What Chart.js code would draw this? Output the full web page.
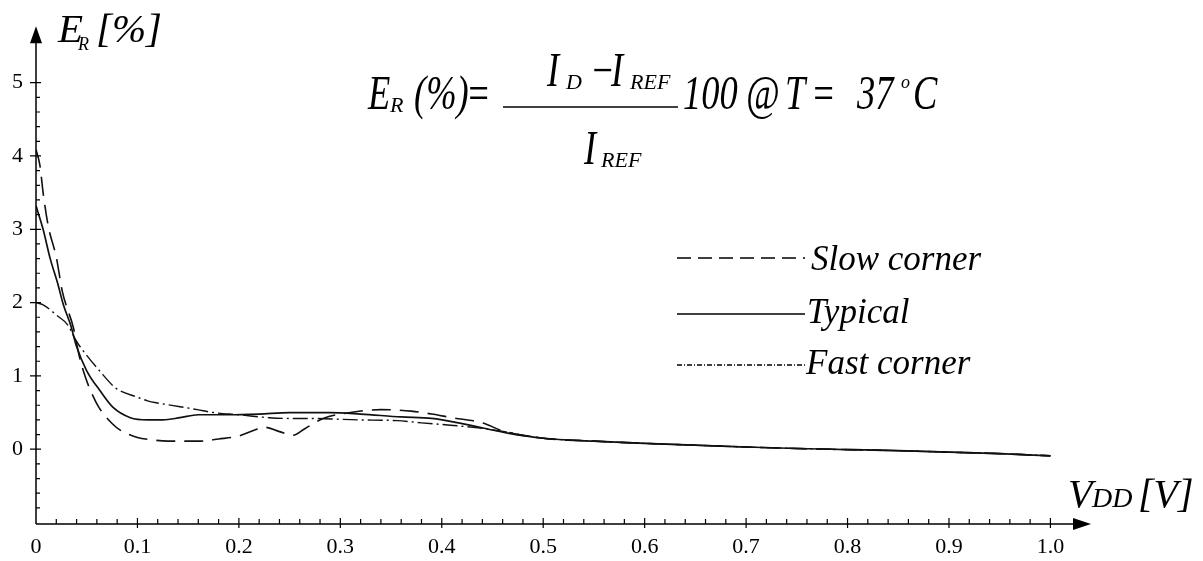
<!DOCTYPE html>
<html>
<head>
<meta charset="utf-8">
<script src="https://cdn.jsdelivr.net/npm/chart.js@4.4.0/dist/chart.umd.min.js"></script>
<style>
html, body { margin: 0; padding: 0; background: #fff; }
#wrap { width: 1203px; height: 561px; position: relative; }
</style>
</head>
<body>
<div id="wrap"><canvas id="graph"></canvas></div>
<script>
// E_R [%] versus V_DD [V]
var slowX = [0, 0.004, 0.007, 0.012, 0.02, 0.026, 0.037, 0.043, 0.049, 0.056, 0.062, 0.075, 0.083, 0.1, 0.113, 0.13, 0.16, 0.18, 0.2, 0.215, 0.225, 0.24, 0.253, 0.265, 0.283, 0.31, 0.34, 0.37, 0.39, 0.41, 0.44, 0.46, 0.5];
var slowY = [4.09, 3.86, 3.5, 3.05, 2.62, 2.15, 1.65, 1.25, 0.97, 0.73, 0.57, 0.35, 0.26, 0.16, 0.13, 0.11, 0.11, 0.14, 0.18, 0.26, 0.30, 0.24, 0.19, 0.28, 0.42, 0.50, 0.54, 0.52, 0.48, 0.43, 0.36, 0.25, 0.15];

var typicalX = [0, 0.007, 0.014, 0.021, 0.027, 0.034, 0.04, 0.05, 0.063, 0.076, 0.093, 0.11, 0.125, 0.142, 0.16, 0.19, 0.22, 0.25, 0.29, 0.32, 0.36, 0.39, 0.42, 0.465, 0.5];
var typicalY = [3.32, 3.0, 2.6, 2.28, 1.97, 1.70, 1.40, 1.07, 0.80, 0.57, 0.43, 0.40, 0.40, 0.43, 0.47, 0.47, 0.48, 0.50, 0.50, 0.48, 0.44, 0.42, 0.35, 0.22, 0.15];

var fastX = [0, 0.007, 0.021, 0.031, 0.04, 0.05, 0.062, 0.079, 0.1, 0.11, 0.12, 0.142, 0.159, 0.175, 0.2, 0.23, 0.25, 0.27, 0.317, 0.356, 0.38, 0.415, 0.448, 0.465, 0.5];
var fastY = [2.0, 1.97, 1.82, 1.70, 1.47, 1.28, 1.08, 0.83, 0.71, 0.66, 0.63, 0.58, 0.54, 0.50, 0.47, 0.43, 0.42, 0.42, 0.40, 0.39, 0.36, 0.32, 0.27, 0.23, 0.15];

// all three corners coincide above 0.5 V
var tailX = [0.55, 0.6, 0.65, 0.7, 0.75, 0.8, 0.85, 0.9, 0.95, 1.0];
var tailY = [0.11, 0.08, 0.055, 0.03, 0.01, -0.005, -0.02, -0.04, -0.06, -0.09];

var xTicks = [0, 0.1, 0.2, 0.3, 0.4, 0.5, 0.6, 0.7, 0.8, 0.9, 1.0];
var yTicks = [0, 1, 2, 3, 4, 5];
var labels = ['Slow corner', 'Typical', 'Fast corner'];

function points(xs, ys) {
    var all = xs.concat(tailX), vals = ys.concat(tailY);
    return all.map(function (x, i) { return { x: x, y: vals[i] }; });
}

var SERIF = '"Liberation Serif", "Times New Roman", serif';

function put(ctx, s, x, y, size, sx) {
    ctx.save();
    ctx.font = 'italic ' + size + 'px ' + SERIF;
    ctx.textAlign = 'left';
    ctx.textBaseline = 'alphabetic';
    ctx.translate(x, y);
    ctx.scale(sx || 1, 1);
    ctx.fillText(s, 0, 0);
    ctx.restore();
}

var legendDash = [[14, 7], [], [5, 2, 1, 2]];
var legendRows = [{ line: 258, text: 270, tx: 811 }, { line: 314, text: 323, tx: 807 }, { line: 365, text: 374, tx: 806 }];

var decor = {
    id: 'decor',
    afterDraw: function (chart) {
        var ctx = chart.ctx, xs = chart.scales.x, ys = chart.scales.y;
        var a = chart.chartArea;
        var L = a.left, B = a.bottom;
        ctx.save();
        ctx.strokeStyle = '#000';
        ctx.fillStyle = '#000';
        ctx.lineWidth = 1.5;

        // axes with arrow heads
        ctx.beginPath();
        ctx.moveTo(L, B); ctx.lineTo(L, a.top + 14);
        ctx.moveTo(L, B); ctx.lineTo(a.right - 16, B);
        ctx.stroke();
        ctx.beginPath();
        ctx.moveTo(L, a.top); ctx.lineTo(L - 6, a.top + 17); ctx.lineTo(L + 6, a.top + 17); ctx.closePath();
        ctx.fill();
        ctx.beginPath();
        ctx.moveTo(a.right, B); ctx.lineTo(a.right - 18, B - 6); ctx.lineTo(a.right - 18, B + 6); ctx.closePath();
        ctx.fill();

        // tick marks
        ctx.lineWidth = 1.2;
        ctx.beginPath();
        for (var i = 1; i <= 50; i++) {
            var px = xs.getPixelForValue(i / 50);
            if (i % 5 === 0) { ctx.moveTo(px, B - 6); ctx.lineTo(px, B + 4); }
            else { ctx.moveTo(px, B - 5); ctx.lineTo(px, B); }
        }
        for (var j = -4; j <= 25; j++) {
            var py = ys.getPixelForValue(j / 5);
            if (j % 5 === 0) { ctx.moveTo(L - 6, py); ctx.lineTo(L + 5, py); }
            else { ctx.moveTo(L, py); ctx.lineTo(L + 4, py); }
        }
        ctx.stroke();

        // axis titles
        put(ctx, 'E', 58, 42, 41);
        put(ctx, 'R', 78, 50, 18);
        put(ctx, '[%]', 96, 42, 41);
        put(ctx, 'V', 1068, 507, 40);
        put(ctx, 'DD', 1092, 507, 28);
        put(ctx, '[V]', 1138, 507, 40);

        // formula
        var F = 48, S = 22, K = 0.76;
        put(ctx, 'E', 368, 109, F, K);
        put(ctx, 'R', 390, 112, S);
        put(ctx, '(%)', 414, 109, F, K);
        put(ctx, '=', 466, 109, F, K);
        put(ctx, 'I', 547, 86, F, K);
        put(ctx, 'D', 566, 89, S);
        put(ctx, '\u2212', 590, 86, F, K);
        put(ctx, 'I', 611, 86, F, K);
        put(ctx, 'REF', 630, 89, S);
        put(ctx, 'I', 584, 164, F, K);
        put(ctx, 'REF', 601, 167, S);
        put(ctx, '100', 683, 109, F, K);
        put(ctx, '@', 746, 109, F, K);
        put(ctx, 'T', 785, 109, F, K);
        put(ctx, '=', 811, 109, F, K);
        put(ctx, '37', 857, 109, F, K);
        put(ctx, 'o', 901, 88, 18);
        put(ctx, 'C', 913, 109, F, K);
        ctx.lineWidth = 1.5;
        ctx.beginPath();
        ctx.moveTo(503, 107); ctx.lineTo(678, 107);
        ctx.stroke();

        // legend
        chart.data.datasets.forEach(function (ds, k) {
            var r = legendRows[k];
            ctx.lineWidth = 1.3;
            ctx.setLineDash(legendDash[k]);
            ctx.beginPath();
            ctx.moveTo(677, r.line); ctx.lineTo(805, r.line);
            ctx.stroke();
            ctx.setLineDash([]);
            put(ctx, ds.label, r.tx, r.text, 35);
        });
        ctx.restore();
    }
};

var ctx = document.getElementById('graph').getContext('2d');
var chart = new Chart(ctx, {
    type: 'line',
    data: {
        datasets: [
            { label: labels[0], data: points(slowX, slowY), borderColor: '#111', borderWidth: 1.6, borderDash: [19, 9] },
            { label: labels[1], data: points(typicalX, typicalY), borderColor: '#111', borderWidth: 1.7 },
            { label: labels[2], data: points(fastX, fastY), borderColor: '#111', borderWidth: 1.4, borderDash: [15, 4, 2, 4] }
        ]
    },
    options: {
        responsive: true,
        maintainAspectRatio: false,
        animation: false,
        layout: { padding: { left: 0, right: 112, top: 22, bottom: 0 } },
        elements: {
            point: { radius: 0 },
            line: { cubicInterpolationMode: 'monotone', fill: false }
        },
        plugins: {
            legend: { display: false },
            tooltip: { enabled: false }
        },
        scales: {
            x: {
                type: 'linear',
                min: 0,
                max: 1.04,
                grid: { display: false, drawTicks: false },
                border: { display: false },
                afterBuildTicks: function (s) { s.ticks = xTicks.map(function (v) { return { value: v }; }); },
                afterFit: function (s) { s.height = 37; },
                ticks: {
                    color: '#000',
                    padding: 10,
                    maxRotation: 0,
                    autoSkip: false,
                    font: { family: SERIF, size: 22 },
                    callback: function (v) { return v === 0 ? '0' : v.toFixed(1); }
                }
            },
            y: {
                type: 'linear',
                min: -1.02,
                max: 5.77,
                grid: { display: false, drawTicks: false },
                border: { display: false },
                afterBuildTicks: function (s) { s.ticks = yTicks.map(function (v) { return { value: v }; }); },
                afterFit: function (s) { s.width = 36; },
                ticks: {
                    color: '#000',
                    padding: 13,
                    font: { family: SERIF, size: 22 },
                    callback: function (v) { return String(v); }
                }
            }
        }
    },
    plugins: [decor]
});
</script>
</body>
</html>
